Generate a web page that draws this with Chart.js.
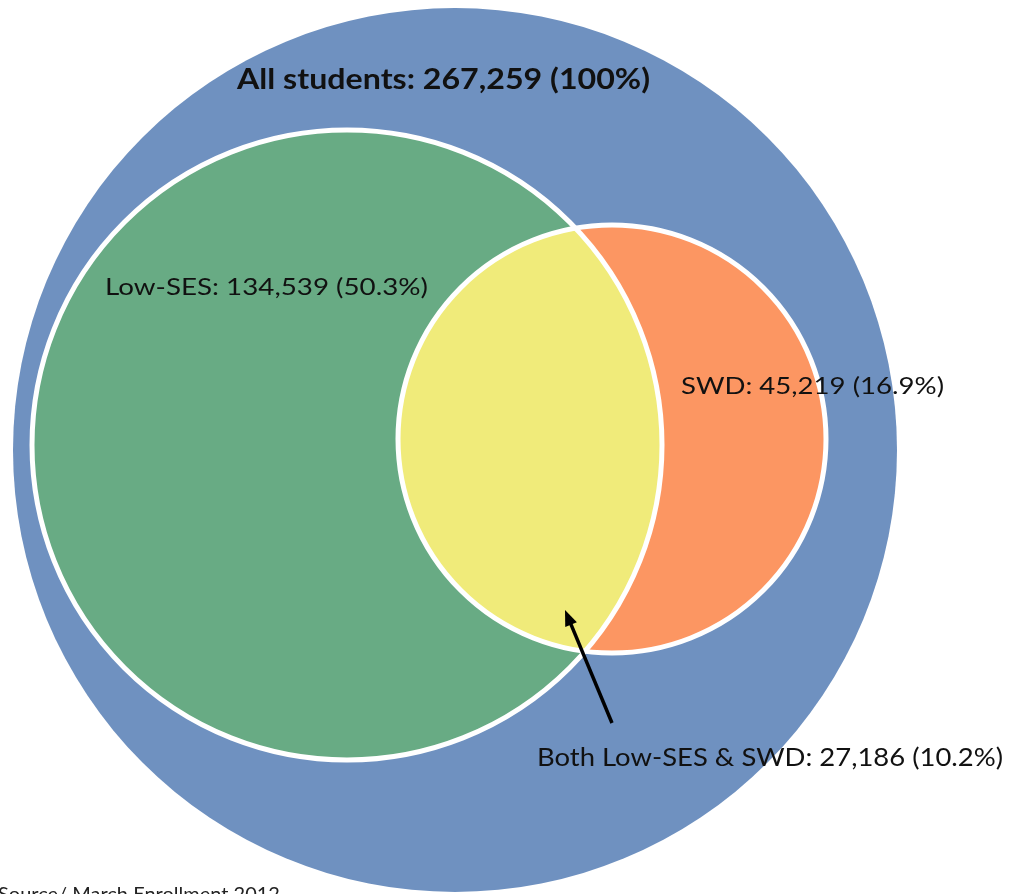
<!DOCTYPE html>
<html>
<head>
<meta charset="utf-8">
<title>Student groups</title>
<script src="https://cdn.jsdelivr.net/npm/chart.js@4.4.1/dist/chart.umd.min.js"></script>
<style>
  html, body { margin: 0; padding: 0; background: #fff; }
  canvas { display: block; }
</style>
</head>
<body>
<canvas id="vennChart" width="1015" height="894"></canvas>
<script>
// Group counts and shares of all students
const groupNames = ['All students', 'Low-SES', 'SWD', 'Both Low-SES & SWD'];
const groupCounts = [267259, 134539, 45219, 27186];
const groupShares = [100, 50.3, 16.9, 10.2];
const sourceNote = 'Source/ March Enrollment 2012';

// Where each circle sits on the 1015 x 894 plane (all, low-SES, SWD)
const circleLayout = [
  { x: 455, y: 450, r: 442 },
  { x: 347, y: 445, r: 315 },
  { x: 612, y: 439, r: 214 },
];
const circleColors = ['#6F91C0', '#68AB84', '#FC9662'];
const overlapColor = '#F0EB7A';

// Label placement: left edge, baseline, drawn width, font size
const labelLayout = [
  { x: 237, y: 89, w: 413, size: 28, weight: 'bold' },
  { x: 105, y: 295, w: 323, size: 24, weight: 'normal' },
  { x: 681, y: 394, w: 263, size: 24, weight: 'normal' },
  { x: 537, y: 766, w: 466, size: 25, weight: 'normal' },
];

function labelText(i) {
  const share = groupShares[i] === 100 ? '100' : groupShares[i].toFixed(1);
  return `${groupNames[i]}: ${groupCounts[i].toLocaleString('en-US')} (${share}%)`;
}

function circlePath(ctx, chart, c) {
  const { x, y } = chart.scales;
  const cx = x.getPixelForValue(c.x);
  const cy = y.getPixelForValue(c.y);
  const r = x.getPixelForValue(c.x + c.r) - cx;
  ctx.beginPath();
  ctx.arc(cx, cy, r, 0, Math.PI * 2);
}

function drawLabel(ctx, text, spot) {
  ctx.save();
  ctx.font = `${spot.weight} ${spot.size}px Lato, "Open Sans", sans-serif`;
  const w = ctx.measureText(text).width;
  ctx.translate(spot.x, spot.y);
  ctx.scale(spot.w / w, 1);
  ctx.fillStyle = '#111';
  ctx.textBaseline = 'alphabetic';
  ctx.fillText(text, 0, 0);
  ctx.restore();
}

// Overlap lens, white outlines, arrow and labels go on top of the bubbles
const vennOverlay = {
  id: 'vennOverlay',
  afterDatasetsDraw(chart) {
    const { ctx } = chart;
    const { x, y } = chart.scales;
    const low = circleLayout[1];
    const swd = circleLayout[2];

    ctx.save();
    circlePath(ctx, chart, low);
    ctx.clip();
    circlePath(ctx, chart, swd);
    ctx.fillStyle = overlapColor;
    ctx.fill();
    ctx.restore();

    ctx.save();
    ctx.strokeStyle = '#fff';
    ctx.lineWidth = 5;
    circlePath(ctx, chart, low);
    ctx.stroke();
    circlePath(ctx, chart, swd);
    ctx.stroke();
    ctx.restore();

    // arrow from the overlap label up into the lens
    const tx = x.getPixelForValue(612), ty = y.getPixelForValue(723);
    const hx = x.getPixelForValue(565), hy = y.getPixelForValue(610);
    const ang = Math.atan2(hy - ty, hx - tx);
    ctx.save();
    ctx.strokeStyle = '#000';
    ctx.fillStyle = '#000';
    ctx.lineWidth = 3.5;
    ctx.beginPath();
    ctx.moveTo(tx, ty);
    ctx.lineTo(hx - 8 * Math.cos(ang), hy - 8 * Math.sin(ang));
    ctx.stroke();
    ctx.beginPath();
    ctx.moveTo(hx, hy);
    ctx.lineTo(hx - 17 * Math.cos(ang - 0.38), hy - 17 * Math.sin(ang - 0.38));
    ctx.lineTo(hx - 17 * Math.cos(ang + 0.38), hy - 17 * Math.sin(ang + 0.38));
    ctx.closePath();
    ctx.fill();
    ctx.restore();

    groupNames.forEach((_, i) => drawLabel(ctx, labelText(i), labelLayout[i]));

    ctx.save();
    ctx.font = '20px Lato, "Open Sans", sans-serif';
    ctx.fillStyle = '#222';
    ctx.textBaseline = 'top';
    ctx.fillText(sourceNote, -2, 885);
    ctx.restore();
  },
};

const ctx = document.getElementById('vennChart').getContext('2d');
new Chart(ctx, {
  type: 'bubble',
  data: {
    datasets: circleLayout.map((c, i) => ({
      label: groupNames[i],
      data: [{ x: c.x, y: c.y, r: c.r }],
      backgroundColor: circleColors[i],
      borderWidth: 0,
      clip: false,
      order: circleLayout.length - i,
    })),
  },
  options: {
    responsive: false,
    devicePixelRatio: 1,
    animation: false,
    events: [],
    // bubbles would otherwise pad the chart area by their radius
    layout: { padding: 0, autoPadding: false },
    plugins: { legend: { display: false }, tooltip: { enabled: false } },
    scales: {
      x: { type: 'linear', min: 0, max: 1015, display: false },
      y: { type: 'linear', min: 0, max: 894, reverse: true, display: false },
    },
  },
  plugins: [vennOverlay],
});
</script>
</body>
</html>
